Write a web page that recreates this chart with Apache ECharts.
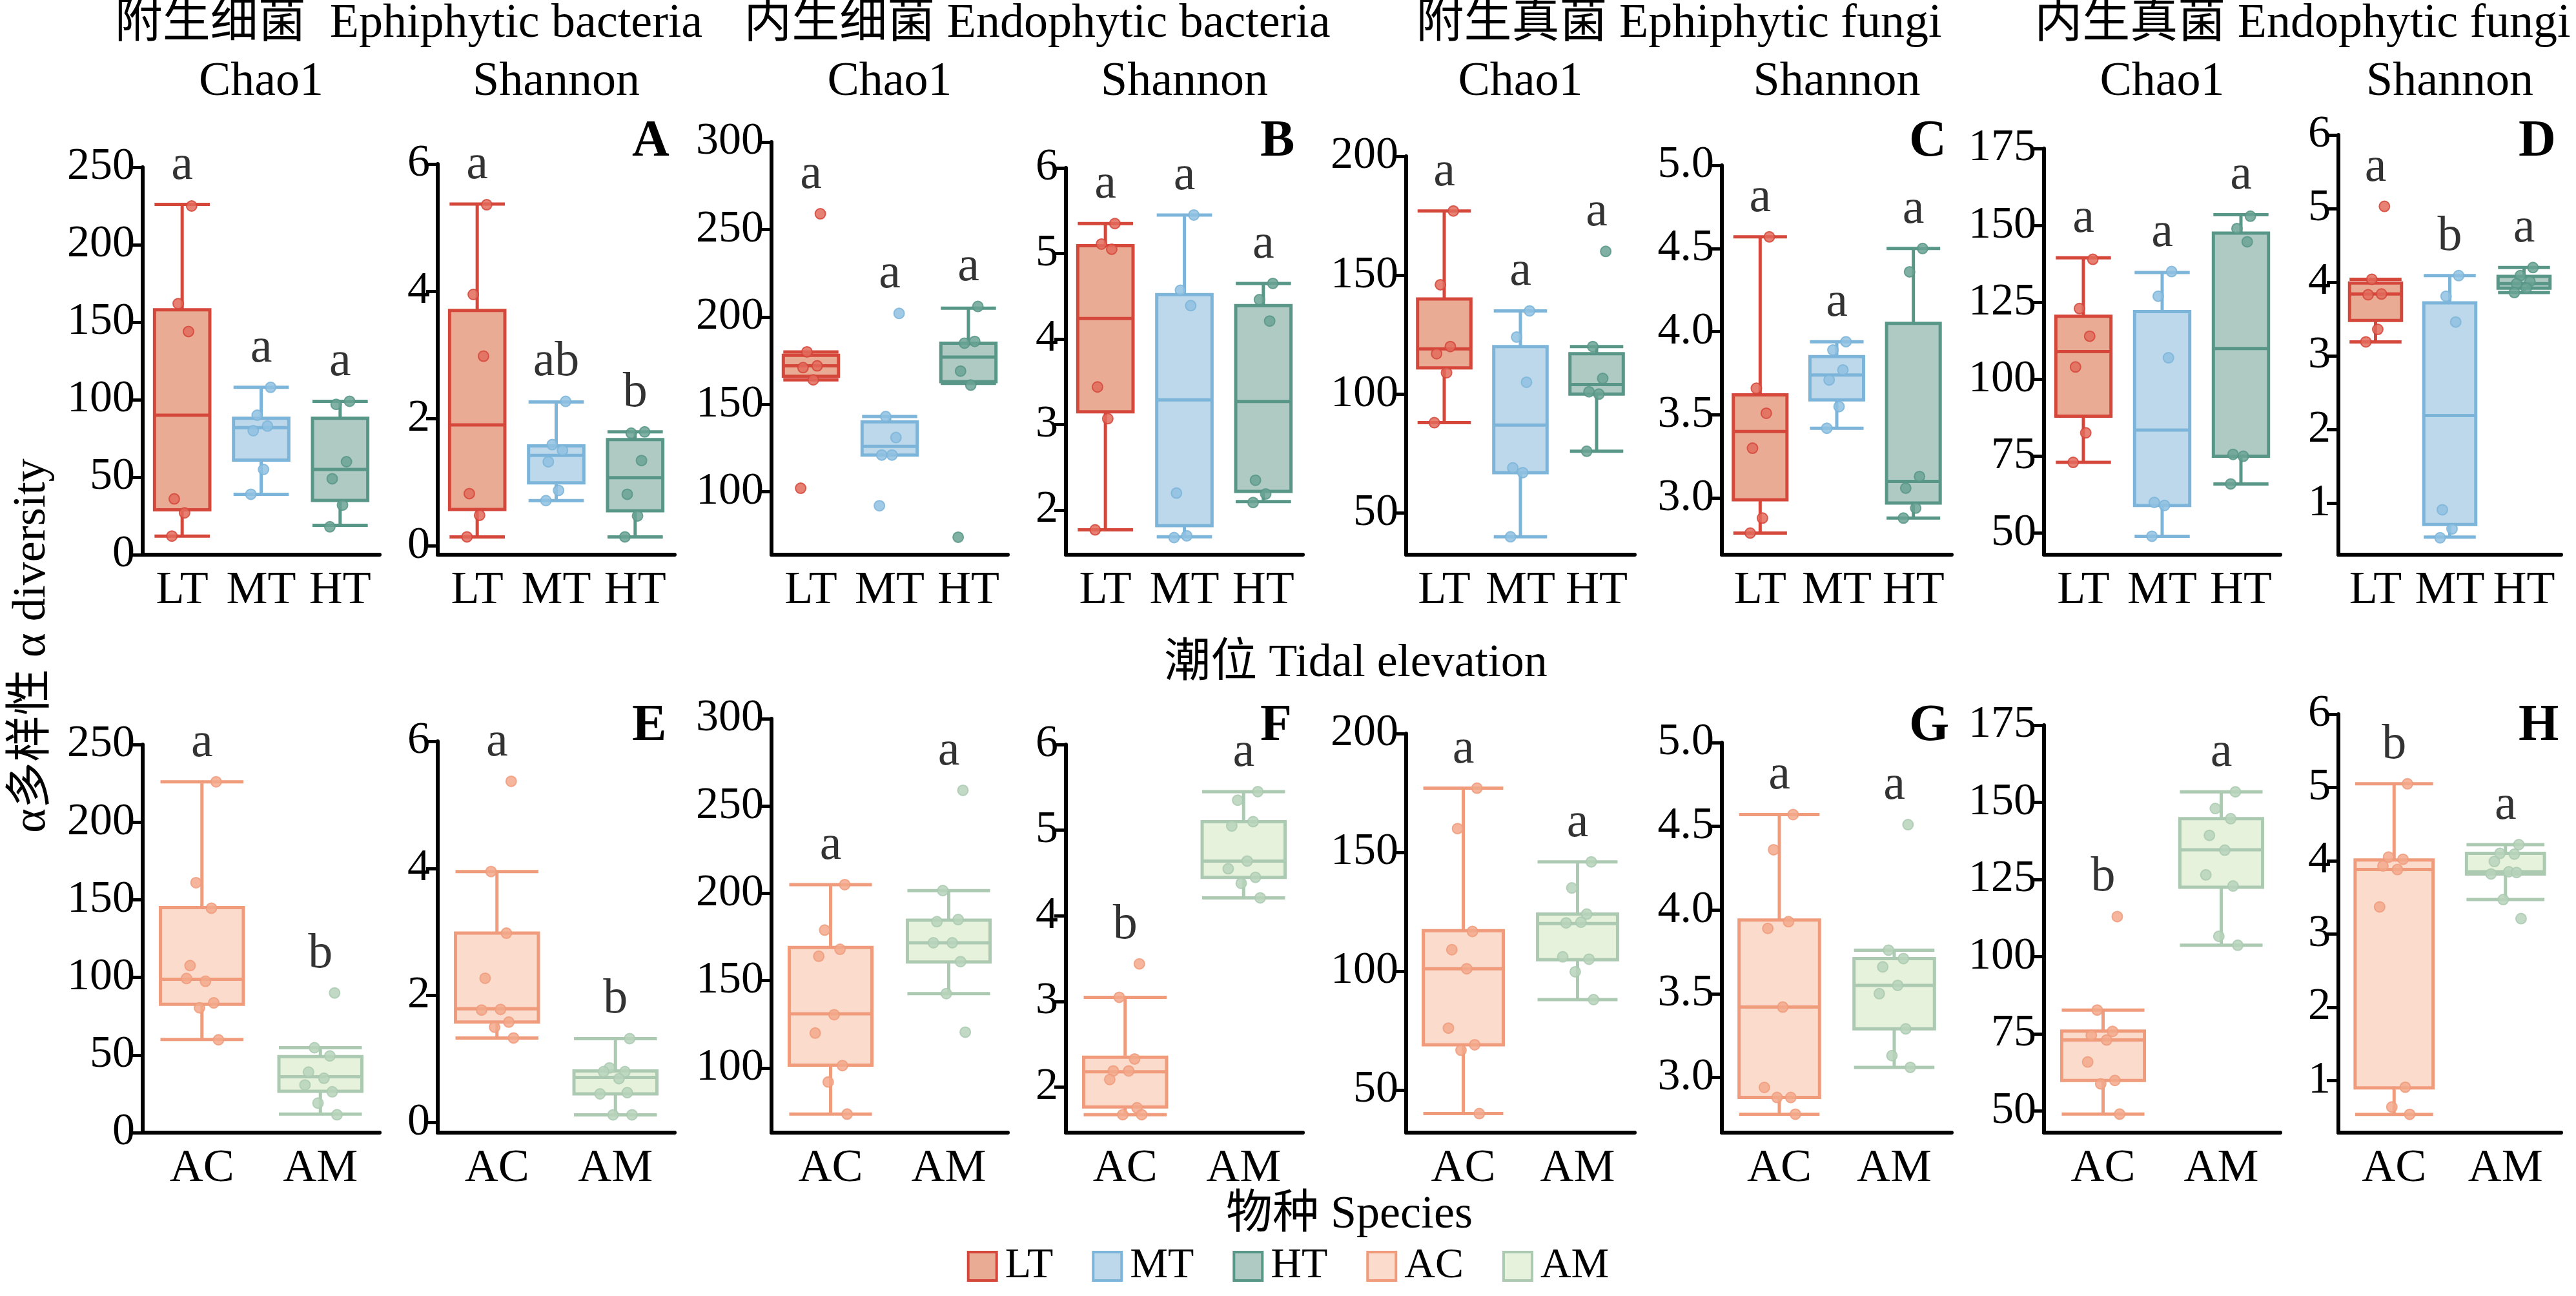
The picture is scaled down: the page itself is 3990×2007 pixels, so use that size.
<!DOCTYPE html>
<html>
<head>
<meta charset="utf-8">
<script src="https://cdn.jsdelivr.net/npm/echarts@6/dist/echarts.min.js"></script>
<style>
  html, body { margin: 0; padding: 0; background: #fff; }
  #chart { width: 3990px; height: 2007px; }
</style>
</head>
<body>
<div id="chart"></div>
<script>
// 分组
const tidalCats = ['LT', 'MT', 'HT']
const speciesCats = ['AC', 'AM']

// 纵轴刻度
const ticksBacChao = [0, 50, 100, 150, 200, 250]
const ticksBacShan = [0, 2, 4, 6]
const ticksEndoBacChao = [100, 150, 200, 250, 300]
const ticksEndoBacShan = [2, 3, 4, 5, 6]
const ticksFunChao = [50, 100, 150, 200]
const ticksFunShan = [3, 3.5, 4, 4.5, 5]
const ticksEndoFunChao = [50, 75, 100, 125, 150, 175]
const ticksEndoFunShan = [1, 2, 3, 4, 5, 6]

// 上排：潮位  [min, Q1, median, Q3, max]
const box1 = [[12, 29, 90, 158, 226], [39, 61, 82, 88, 108], [19, 35, 55, 88, 99]]
const pts1 = [[225, 162, 144, 36, 27, 12], [108, 90, 83, 80, 55, 39], [99, 97, 60, 49, 32, 18]]
const sig1 = ['a', 'a', 'a']
const box2 = [[0.14, 0.57, 1.90, 3.70, 5.37], [0.71, 0.99, 1.42, 1.57, 2.26], [0.14, 0.55, 1.07, 1.67, 1.79]]
const pts2 = [[5.36, 3.95, 2.98, 0.82, 0.48, 0.14], [2.27, 1.59, 1.50, 1.32, 0.87, 0.71], [1.79, 1.77, 1.34, 0.81, 0.47, 0.14]]
const sig2 = ['a', 'ab', 'b']
const box3 = [[164, 166, 172, 178, 180], [121, 121, 126, 140, 143], [162, 163, 177, 185, 205]]
const pts3 = [[259, 180, 172, 171, 164, 102], [202, 143, 131, 121, 121, 92], [206, 185, 186, 169, 161, 74]]
const sig3 = ['a', 'a', 'a']
const box4 = [[1.77, 3.15, 4.24, 5.09, 5.35], [1.69, 1.82, 3.29, 4.52, 5.45], [2.10, 2.22, 3.27, 4.39, 4.65]]
const pts4 = [[5.35, 5.11, 5.05, 3.44, 3.07, 1.77], [5.45, 4.57, 4.39, 2.20, 1.70, 1.68], [4.65, 4.46, 4.21, 2.35, 2.19, 2.09]]
const sig4 = ['a', 'a', 'a']
const box5 = [[88, 111, 119, 140, 177], [40, 67, 87, 120, 135], [76, 100, 104, 117, 120]]
const pts5 = [[177, 146, 120, 117, 109, 88], [135, 124, 105, 69, 67, 40], [160, 120, 106.6, 101, 100, 76]]
const sig5 = ['a', 'a', 'a']
const box6 = [[2.79, 2.99, 3.40, 3.62, 4.57], [3.42, 3.59, 3.74, 3.85, 3.94], [2.88, 2.97, 3.10, 4.05, 4.50]]
const pts6 = [[4.57, 3.66, 3.51, 3.30, 2.88, 2.79], [3.94, 3.89, 3.77, 3.71, 3.55, 3.42], [4.50, 4.36, 3.13, 3.06, 2.94, 2.88]]
const sig6 = ['a', 'a', 'a']
const box7 = [[73, 88, 109, 120.5, 139.5], [49, 59, 83.5, 122, 134.7], [66, 75, 110, 147.5, 153.5]]
const pts7 = [[139, 123, 114, 104, 82.6, 73], [135, 127, 107, 60, 59, 49], [153, 149, 144.7, 75.6, 75, 66]]
const sig7 = ['a', 'a', 'a']
const box8 = [[3.19, 3.48, 3.84, 3.99, 4.04], [0.54, 0.71, 2.19, 3.72, 4.09], [3.86, 3.92, 3.98, 4.08, 4.20]]
const pts8 = [[5.03, 4.04, 3.84, 3.83, 3.36, 3.19], [4.09, 3.81, 3.46, 0.91, 0.65, 0.53], [4.20, 4.09, 4.01, 3.98, 3.92, 3.86]]
const sig8 = ['a', 'b', 'a']

// 下排：物种
const box9 = [[60, 82.7, 98.8, 145, 226], [12, 26.6, 36, 49, 54.7]]
const pts9 = [[226, 161, 144.6, 107.6, 97.5, 99.3, 83.6, 80.4, 59.8], [90, 54.7, 49.4, 39, 35, 30.7, 26.3, 19, 11.5]]
const sig9 = ['a', 'b']
const box10 = [[1.33, 1.58, 1.79, 2.98, 3.95], [0.12, 0.45, 0.71, 0.81, 1.32]]
const pts10 = [[5.37, 3.95, 2.98, 2.27, 1.78, 1.77, 1.58, 1.50, 1.33], [1.32, 0.86, 0.80, 0.80, 0.69, 0.45, 0.47, 0.12, 0.12]]
const sig10 = ['a', 'b']
const box11 = [[73.6, 101.6, 131, 169, 205], [142.6, 160.7, 171.7, 184.6, 201.6]]
const pts11 = [[205, 179, 168, 164, 130.5, 120, 101.4, 92, 73.6], [259, 201.6, 185, 183.8, 171.7, 171.7, 160.9, 142.6, 120.5]]
const sig11 = ['a', 'a']
const box12 = [[1.68, 1.77, 2.18, 2.35, 3.05], [4.21, 4.45, 4.64, 5.10, 5.45]]
const pts12 = [[3.44, 3.05, 2.33, 2.19, 2.19, 2.09, 1.76, 1.68, 1.68], [5.45, 5.35, 5.10, 5.05, 4.64, 4.55, 4.45, 4.38, 4.21]]
const sig12 = ['b', 'a']
const box13 = [[40, 69, 101, 117, 177], [88, 104.8, 120, 124, 146]]
const pts13 = [[177, 160, 116.7, 109, 101, 76, 69, 66.7, 40], [146, 135, 124, 120.3, 120.6, 106, 105, 99.7, 88]]
const sig13 = ['a', 'a']
const box14 = [[2.78, 2.88, 3.42, 3.94, 4.57], [3.06, 3.29, 3.55, 3.71, 3.76]]
const pts14 = [[4.57, 4.36, 3.93, 3.89, 3.42, 2.94, 2.88, 2.88, 2.78], [4.51, 3.76, 3.71, 3.66, 3.55, 3.50, 3.29, 3.13, 3.06]]
const sig14 = ['a', 'a']
const box15 = [[49, 59.9, 73, 75.9, 82.7], [103.7, 122.5, 134.6, 144.7, 153.4]]
const pts15 = [[113, 82.7, 75.8, 74.5, 73, 65.9, 59.9, 58.8, 49], [153.4, 148, 144.7, 139.3, 134.5, 126.5, 122.9, 106.6, 103.7]]
const sig15 = ['b', 'a']
const box16 = [[0.54, 0.90, 3.88, 4.01, 5.05], [3.47, 3.82, 3.85, 4.10, 4.22]]
const pts16 = [[5.05, 4.05, 4.02, 3.93, 3.88, 3.37, 0.91, 0.64, 0.54], [4.22, 4.10, 4.09, 3.99, 3.85, 3.82, 3.84, 3.47, 3.21]]
const sig16 = ['b', 'a']

const panelLetters = ['A', 'B', 'C', 'D', 'E', 'F', 'G', 'H']
const groupTitles = ['附生细菌  Ephiphytic bacteria', '内生细菌 Endophytic bacteria', '附生真菌 Ephiphytic fungi', '内生真菌 Endophytic fungi']

// ---- 布局 ----
const FONT = 'Liberation Serif, Noto Sans CJK SC, serif'
const colLeft = [221, 678, 1195, 1651, 2178, 2667, 3166, 3622]
const colWidth = [367, 367, 366, 367, 354, 356, 366, 345]
const rowBottom = [859, 1754]
const rowTop = [[259, 254, 220, 260, 242, 256, 230, 209], [1153, 1148, 1113, 1153, 1136, 1150, 1123, 1106]]
const rowMin = [[0, -0.14, 64, 1.48, 32.5, 2.66, 43, 0.30], [0, -0.16, 63, 1.47, 32, 2.67, 43, 0.29]]
const colTicks = [ticksBacChao, ticksBacShan, ticksEndoBacChao, ticksEndoBacShan, ticksFunChao, ticksFunShan, ticksEndoFunChao, ticksEndoFunShan]
const jitter = [0.12, -0.05, 0.08, -0.1, 0.03, -0.13, 0.1, -0.02, 0.14]

const groupStyle = {
  LT: { stroke: '#d5473b', fill: '#eaab94', dot: '#e26b5c' },
  MT: { stroke: '#7cb5d9', fill: '#bdd8ea', dot: '#8fc1e0' },
  HT: { stroke: '#589687', fill: '#afc9c3', dot: '#6aa394' },
  AC: { stroke: '#f09c7c', fill: '#fadbcc', dot: '#f3a98c' },
  AM: { stroke: '#abcab1', fill: '#e6f2db', dot: '#b7d3bb' }
}

const boxes = [box1, box2, box3, box4, box5, box6, box7, box8, box9, box10, box11, box12, box13, box14, box15, box16]
const points = [pts1, pts2, pts3, pts4, pts5, pts6, pts7, pts8, pts9, pts10, pts11, pts12, pts13, pts14, pts15, pts16]
const sigs = [sig1, sig2, sig3, sig4, sig5, sig6, sig7, sig8, sig9, sig10, sig11, sig12, sig13, sig14, sig15, sig16]

const grid = [], xAxis = [], yAxis = [], series = [], graphic = []

for (let p = 0; p < 16; p++) {
  const row = p < 8 ? 0 : 1
  const c = p % 8
  const cats = row === 0 ? tidalCats : speciesCats
  const ticks = colTicks[c]
  const gTop = rowTop[row][c]
  grid.push({ left: colLeft[c], top: gTop, width: colWidth[c], height: rowBottom[row] - gTop })
  xAxis.push({
    type: 'category', gridIndex: p, data: cats, boundaryGap: true,
    axisLine: { onZero: false, lineStyle: { color: '#000', width: 6 } },
    axisTick: { inside: true, length: 22, alignWithLabel: true, lineStyle: { color: '#000', width: 5 } },
    axisLabel: { color: '#000', fontSize: 72, fontFamily: FONT, margin: 20, interval: 0, hideOverlap: false }
  })
  xAxis.push({ type: 'value', gridIndex: p, min: -0.5, max: cats.length - 0.5, show: false })
  yAxis.push({
    type: 'value', gridIndex: p, min: rowMin[row][c], max: ticks[ticks.length - 1],
    splitLine: { show: false },
    axisLine: { show: true, onZero: false, lineStyle: { color: '#000', width: 6 } },
    axisTick: { show: true, length: 18, customValues: ticks, lineStyle: { color: '#000', width: 5 } },
    axisLabel: {
      color: '#000', fontSize: 70, fontFamily: FONT, margin: 12, customValues: ticks,
      formatter: c === 5 ? (v) => v.toFixed(1) : (v) => String(v)
    }
  })

  series.push({
    type: 'boxplot', xAxisIndex: 2 * p, yAxisIndex: p, silent: true, z: 2,
    boxWidth: ['70%', '70%'],
    data: boxes[p].map((b, g) => {
      const s = groupStyle[cats[g]]
      return { value: b, itemStyle: { color: s.fill, borderColor: s.stroke, borderWidth: 5 } }
    })
  })

  cats.forEach((name, g) => {
    const s = groupStyle[name]
    series.push({
      name: name, type: 'scatter', xAxisIndex: 2 * p + 1, yAxisIndex: p, z: 3, silent: true,
      symbolSize: 16,
      itemStyle: { color: s.dot, borderColor: s.stroke, borderWidth: 2, opacity: 0.85 },
      data: points[p][g].map((v, i) => [g + jitter[i], v])
    })
  })

  // 显著性字母
  series.push({
    type: 'scatter', xAxisIndex: 2 * p + 1, yAxisIndex: p, symbolSize: 0, silent: true, z: 4,
    data: cats.map((name, g) => {
      const hi = Math.max(boxes[p][g][4], ...points[p][g])
      return { value: [g, hi], label: { formatter: sigs[p][g] } }
    }),
    label: { show: true, position: 'top', distance: 22, color: '#000', fontSize: 76, fontFamily: FONT }
  })

  if (c % 2 === 1) {
    graphic.push({
      type: 'text', left: colLeft[c] + colWidth[c] - 66, top: row === 0 ? 180 : 1085,
      style: { text: panelLetters[(c - 1) / 2 + row * 4], fontSize: 80, fontWeight: 'bold', fontFamily: FONT, fill: '#000' }
    })
  }
  if (row === 0) {
    graphic.push({
      type: 'text', x: colLeft[c] + colWidth[c] / 2, y: 128,
      style: { text: c % 2 === 0 ? 'Chao1' : 'Shannon', fontSize: 74, fontFamily: FONT, fill: '#000', align: 'center', verticalAlign: 'middle' }
    })
  }
}

groupTitles.forEach((t, k) => {
  const x = (colLeft[2 * k] + colLeft[2 * k + 1] + colWidth[2 * k + 1]) / 2
  graphic.push({
    type: 'text', x: x, y: 38,
    style: { text: t, fontSize: 74, fontFamily: FONT, fill: '#000', align: 'center', verticalAlign: 'middle' }
  })
})
graphic.push({
  type: 'text', x: 2100, y: 1028,
  style: { text: '潮位 Tidal elevation', fontSize: 72, fontFamily: FONT, fill: '#000', align: 'center', verticalAlign: 'middle' }
})
graphic.push({
  type: 'text', x: 2090, y: 1882,
  style: { text: '物种 Species', fontSize: 72, fontFamily: FONT, fill: '#000', align: 'center', verticalAlign: 'middle' }
})
graphic.push({
  type: 'text', x: 50, y: 1000, rotation: Math.PI / 2,
  style: { text: 'α多样性 α diversity', fontSize: 72, fontFamily: FONT, fill: '#000', align: 'center', verticalAlign: 'middle' }
})

const chart = echarts.init(document.getElementById('chart'))
chart.setOption({
  animation: false,
  backgroundColor: '#fff',
  grid: grid,
  xAxis: xAxis,
  yAxis: yAxis,
  series: series,
  graphic: graphic,
  legend: {
    bottom: 8, left: 'center', itemWidth: 44, itemHeight: 44, itemGap: 60,
    textStyle: { fontSize: 66, fontFamily: FONT, color: '#000', padding: [0, 0, 0, 8] },
    data: ['LT', 'MT', 'HT', 'AC', 'AM'].map((n) => ({
      name: n, icon: 'rect',
      itemStyle: { color: groupStyle[n].fill, borderColor: groupStyle[n].stroke, borderWidth: 4, opacity: 1 }
    }))
  }
})
window.addEventListener('resize', () => {
  chart.resize()
})
</script>
</body>
</html>
